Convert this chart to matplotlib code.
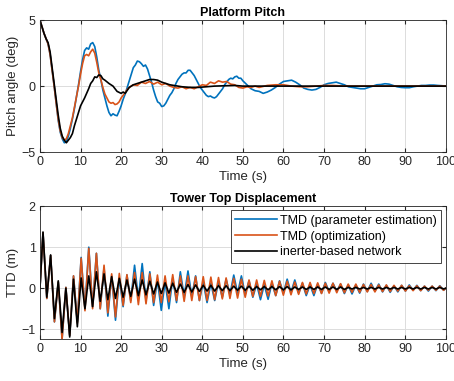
import matplotlib
matplotlib.use("Agg")
import matplotlib.pyplot as plt

plt.rcParams['font.family'] = ['Liberation Sans', 'DejaVu Sans']

# ---- Platform pitch (deg) ----
t_blue = [0, 0.5, 1, 1.5, 2, 2.5, 3, 3.5, 4, 4.5, 5, 5.5, 6, 6.5, 7, 7.5, 8, 8.5, 9, 9.5,
          10, 10.5, 11, 11.5, 12, 12.5, 13, 13.5, 14, 14.5, 15, 15.5, 16, 16.5, 17, 17.5, 18, 18.5, 19, 19.5,
          20, 20.5, 21, 21.5, 22, 22.5, 23, 23.5, 24, 24.5, 25, 25.5, 26, 26.5, 27, 27.5, 28, 28.5, 29, 29.5,
          30, 30.5, 31, 31.5, 32, 32.5, 33, 33.5, 34, 34.5, 35, 35.5, 36, 36.5, 37, 37.5, 38, 38.5, 39, 39.5,
          40, 40.5, 41, 41.5, 42, 42.5, 43, 43.5, 44, 44.5, 45, 45.5, 46, 46.5, 47, 47.5, 48, 48.5, 49, 49.5,
          50, 51, 52, 53, 54, 55, 56, 57, 58, 59, 60, 61, 62, 63, 64, 65, 66, 67, 68, 69,
          70, 71, 72, 73, 74, 75, 76, 77, 78, 79, 80, 81, 82, 83, 84, 85, 86, 87, 88, 89,
          90, 91, 92, 93, 94, 95, 96, 97, 98, 99, 100]
pitch_blue = [5.0, 4.5, 4.0, 3.6, 3.2, 2.4, 1.2, 0.0, -1.3, -2.6, -3.5, -4.0, -4.3, -4.2, -3.8, -3.2, -2.5, -1.7, -0.8, 0.1,
              1.1, 2.0, 2.7, 2.9, 2.8, 3.2, 3.3, 3.0, 2.2, 1.2, 0.5, -0.3, -0.9, -1.5, -2.0, -2.25, -2.1, -2.2, -2.25, -1.9,
              -1.5, -1.0, -0.6, -0.1, 0.4, 0.9, 1.4, 1.6, 1.9, 1.85, 1.7, 1.5, 1.6, 1.3, 0.8, 0.3, -0.3, -0.8, -1.2, -1.3,
              -1.55, -1.5, -1.3, -1.0, -0.7, -0.5, -0.2, 0.2, 0.5, 0.7, 0.9, 1.0, 1.0, 1.2, 1.2, 1.0, 0.8, 0.5, 0.2, -0.1,
              -0.3, -0.5, -0.7, -0.8, -0.75, -0.85, -0.9, -0.8, -0.6, -0.4, -0.2, 0.1, 0.3, 0.5, 0.6, 0.55, 0.7, 0.75, 0.6, 0.6,
              0.4, 0.1, -0.2, -0.35, -0.4, -0.55, -0.45, -0.3, -0.1, 0.15, 0.35, 0.4, 0.45, 0.3, 0.1, -0.15, -0.25, -0.3, -0.25, -0.1,
              0.1, 0.2, 0.25, 0.3, 0.2, 0.1, -0.05, -0.1, -0.15, -0.2, -0.2, -0.1, 0.0, 0.1, 0.12, 0.18, 0.15, 0.05, -0.05, -0.1,
              -0.12, -0.12, -0.05, 0.0, 0.05, 0.05, 0.08, 0.08, 0.05, 0.03, 0.0]

t_orange = [0, 0.5, 1, 1.5, 2, 2.5, 3, 3.5, 4, 4.5, 5, 5.5, 6, 6.5, 7, 7.5, 8, 8.5, 9, 9.5,
            10, 10.5, 11, 11.5, 12, 12.5, 13, 13.5, 14, 14.5, 15, 15.5, 16, 16.5, 17, 17.5, 18, 18.5, 19, 19.5,
            20, 20.5, 21, 21.5, 22, 23, 24, 25, 26, 27, 28, 29, 30, 31, 32, 33, 34, 35, 36, 37,
            38, 39, 40, 41, 42, 43, 44, 45, 46, 47, 48, 49, 50, 51, 52, 53, 54, 56, 58, 60,
            62, 64, 66, 68, 70, 72, 75, 80, 85, 90, 95, 100]
pitch_orange = [5.0, 4.5, 4.0, 3.6, 3.2, 2.4, 1.2, 0.0, -1.3, -2.5, -3.4, -3.9, -4.1, -4.0, -3.6, -3.0, -2.4, -1.6, -0.8, 0.0,
                0.9, 1.7, 2.3, 2.4, 2.3, 2.6, 2.8, 2.5, 1.8, 1.0, 0.5, -0.1, -0.6, -0.9, -1.2, -1.3, -1.25, -1.4, -1.35, -1.2,
                -0.9, -0.7, -0.5, -0.25, -0.1, 0.1, 0.05, 0.3, 0.2, 0.35, 0.15, 0.3, 0.1, 0.2, 0.0, -0.1, -0.15, -0.05, -0.2, -0.1,
                -0.2, -0.05, 0.1, 0.05, 0.3, 0.2, 0.4, 0.3, 0.35, 0.15, 0.1, -0.1, -0.15, -0.05, -0.1, 0.0, -0.1, 0.05, 0.1, 0.1,
                0.0, -0.05, -0.05, 0.0, 0.05, 0.05, 0.0, 0.0, 0.0, 0.0, 0.0, 0.0]

t_black = [0, 0.5, 1, 1.5, 2, 2.5, 3, 3.5, 4, 4.5, 5, 5.5, 6, 6.5, 7, 7.5, 8, 8.5, 9, 9.5,
           10, 11, 12, 12.5, 13, 13.5, 14, 14.5, 15, 15.5, 16, 17, 18, 19, 20, 20.5, 21, 22, 23, 24,
           25, 26, 27, 28, 29, 30, 31, 32, 33, 34, 35, 37, 39, 41, 43, 45, 48, 50, 55, 60, 100]
pitch_black = [5.0, 4.5, 4.0, 3.6, 3.3, 2.6, 1.4, 0.2, -1.0, -2.2, -3.2, -3.8, -4.1, -4.3, -4.1, -3.9, -3.6, -3.0, -2.5, -2.0,
               -1.5, -0.9, -0.2, 0.2, 0.4, 0.7, 0.65, 0.85, 0.8, 0.55, 0.45, 0.2, 0.0, -0.4, -0.55, -0.45, -0.55, -0.1, 0.1, 0.2,
               0.3, 0.4, 0.5, 0.5, 0.45, 0.3, 0.2, 0.1, 0.05, 0.0, -0.05, -0.1, -0.1, -0.05, 0.0, 0.02, 0.05, 0.0, 0.0, 0.0, 0.0]

# ---- Tower top displacement (m): peaks / troughs ----
t_ttd = [0, 0.75, 1.69, 2.63, 3.57, 4.51, 5.45, 6.39, 7.33, 8.27, 9.21,
         10.15, 11.09, 12.03, 12.97, 13.91, 14.85, 15.79, 16.73, 17.67, 18.61,
         19.55, 20.49, 21.43, 22.37, 23.31, 24.25, 25.19, 26.13, 27.07, 28.01,
         28.95, 29.89, 30.83, 31.77, 32.71, 33.65, 34.59, 35.53, 36.47, 37.41,
         38.35, 39.29, 40.23, 41.17, 42.11, 43.05, 43.99, 44.93, 45.87, 46.81,
         47.75, 48.69, 49.63, 50.57, 51.51, 52.45, 53.39, 54.33, 55.27, 56.21,
         57.15, 58.09, 59.03, 59.97, 60.91, 61.85, 62.79, 63.73, 64.67, 65.61,
         66.55, 67.49, 68.43, 69.37, 70.31, 71.25, 72.19, 73.13, 74.07, 75.01,
         75.95, 76.89, 77.83, 78.77, 79.71, 80.65, 81.59, 82.53, 83.47, 84.41,
         85.35, 86.29, 87.23, 88.17, 89.11, 90.05, 90.99, 91.93, 92.87, 93.81,
         94.75, 95.69, 96.63, 97.57, 98.51, 99.45, 100]

ttd_blue = [0.0, 1.35, -0.25, 0.8, -0.82, 0.15, -1.24, 0.02, -1.15, 0.3, -0.82,
            0.75, -0.5, 1.0, -0.45, 0.85, -0.5, 0.5, -0.68, 0.3, -0.78,
            0.25, -0.45, 0.32, -0.3, 0.56, -0.25, 0.6, -0.3, 0.4, -0.42,
            0.2, -0.54, 0.15, -0.5, 0.25, -0.35, 0.4, -0.2, 0.42, -0.2,
            0.3, -0.3, 0.15, -0.35, 0.12, -0.3, 0.15, -0.22, 0.22, -0.15,
            0.32, -0.12, 0.3, -0.15, 0.18, -0.22, 0.1, -0.28, 0.08, -0.27,
            0.12, -0.18, 0.18, -0.12, 0.22, -0.1, 0.2, -0.12, 0.12, -0.18,
            0.08, -0.18, 0.1, -0.12, 0.14, -0.08, 0.12, -0.07, 0.1, -0.13,
            0.08, -0.14, 0.08, -0.12, 0.1, -0.08, 0.12, -0.07, 0.1, -0.09,
            0.07, -0.1, 0.06, -0.09, 0.07, -0.07, 0.08, -0.05, 0.07, -0.06,
            0.05, -0.07, 0.05, -0.06, 0.06, -0.05, 0.0]
ttd_orange = [0.0, 1.35, -0.25, 0.8, -0.82, 0.15, -1.24, 0.02, -1.15, 0.3, -0.85,
              0.73, -0.55, 0.97, -0.5, 0.85, -0.5, 0.56, -0.6, 0.35, -0.7,
              0.36, -0.42, 0.33, -0.35, 0.38, -0.4, 0.38, -0.38, 0.35, -0.35,
              0.32, -0.35, 0.3, -0.33, 0.33, -0.3, 0.3, -0.32, 0.3, -0.3,
              0.28, -0.3, 0.28, -0.3, 0.27, -0.28, 0.26, -0.26, 0.25, -0.25,
              0.24, -0.24, 0.22, -0.22, 0.2, -0.2, 0.2, -0.2, 0.19, -0.19,
              0.18, -0.18, 0.17, -0.17, 0.17, -0.16, 0.15, -0.15, 0.14, -0.14,
              0.14, -0.13, 0.13, -0.13, 0.12, -0.12, 0.12, -0.11, 0.11, -0.11,
              0.1, -0.1, 0.1, -0.1, 0.09, -0.09, 0.09, -0.09, 0.08, -0.08,
              0.08, -0.08, 0.07, -0.07, 0.07, -0.07, 0.06, -0.06, 0.06, -0.06,
              0.05, -0.05, 0.05, -0.05, 0.05, -0.05, 0.0]
ttd_black = [0.0, 1.37, -0.22, 0.81, -0.74, 0.18, -1.08, 0.0, -1.19, 0.22, -0.94,
             0.25, -0.5, 0.3, -0.45, 0.4, -0.32, 0.35, -0.28, 0.28, -0.25,
             0.24, -0.22, 0.2, -0.2, 0.22, -0.18, 0.2, -0.16, 0.17, -0.14,
             0.15, -0.13, 0.13, -0.12, 0.12, -0.1, 0.1, -0.1, 0.09, -0.09,
             0.08, -0.08, 0.07, -0.07, 0.07, -0.07, 0.06, -0.06, 0.06, -0.06,
             0.05, -0.05, 0.05, -0.05, 0.05, -0.05, 0.04, -0.04, 0.04, -0.04,
             0.04, -0.04, 0.04, -0.04, 0.04, -0.04, 0.03, -0.03, 0.03, -0.03,
             0.03, -0.03, 0.03, -0.03, 0.03, -0.03, 0.03, -0.03, 0.03, -0.03,
             0.02, -0.02, 0.02, -0.02, 0.02, -0.02, 0.02, -0.02, 0.02, -0.02,
             0.02, -0.02, 0.02, -0.02, 0.02, -0.02, 0.02, -0.02, 0.02, -0.02,
             0.02, -0.02, 0.02, -0.02, 0.02, -0.02, 0.0]

series_names = ['TMD (parameter estimation)', 'TMD (optimization)', 'inerter-based network']
blue = '#0072BD'
orange = '#D95319'


def matlab_axes(ax):
    ax.set_xlim(0, 100)
    ax.set_xticks(range(0, 101, 10))
    ax.grid(True, color='#dcdcdc', linewidth=0.7)
    ax.set_axisbelow(True)
    ax.tick_params(direction='in', top=True, right=True, labelsize=9,
                   colors='#262626', length=3, pad=3)
    for s in ax.spines.values():
        s.set_color('#262626')
        s.set_linewidth(0.6)
    ax.set_xlabel('Time (s)', fontsize=9.5, color='#262626', labelpad=2)


line_kw = dict(lw=1.2, solid_joinstyle='round')

fig = plt.figure(figsize=(4.54, 3.81), dpi=100)

ax1 = fig.add_axes([0.088, 0.601, 0.894, 0.346])
ax1.plot(t_blue, pitch_blue, color=blue, **line_kw)
ax1.plot(t_orange, pitch_orange, color=orange, **line_kw)
ax1.plot(t_black, pitch_black, color='black', **line_kw)
ax1.set_ylim(-5, 5)
ax1.set_yticks([-5, 0, 5])
matlab_axes(ax1)
ax1.set_ylabel('Pitch angle (deg)', fontsize=9.5, color='#262626', labelpad=2)
ax1.set_title('Platform Pitch', fontsize=9, fontweight='bold', pad=3)

ax2 = fig.add_axes([0.088, 0.110, 0.894, 0.349])
ax2.plot(t_ttd, ttd_blue, color=blue, label=series_names[0], **line_kw)
ax2.plot(t_ttd, ttd_orange, color=orange, label=series_names[1], **line_kw)
ax2.plot(t_ttd, ttd_black, color='black', label=series_names[2], **line_kw)
ax2.set_ylim(-1.24, 2)
ax2.set_yticks([-1, 0, 1, 2])
matlab_axes(ax2)
ax2.set_ylabel('TTD (m)', fontsize=9.5, color='#262626', labelpad=2)
ax2.set_title('Tower Top Displacement', fontsize=9, fontweight='bold', pad=3)
leg = ax2.legend(loc='upper right', fontsize=9, fancybox=False, framealpha=1,
                 borderpad=0.35, labelspacing=0.3, handlelength=3.3, handletextpad=0.3,
                 borderaxespad=0.35)
leg.get_frame().set_edgecolor('#262626')
leg.get_frame().set_linewidth(0.6)

fig.savefig('out.png', dpi=100)
